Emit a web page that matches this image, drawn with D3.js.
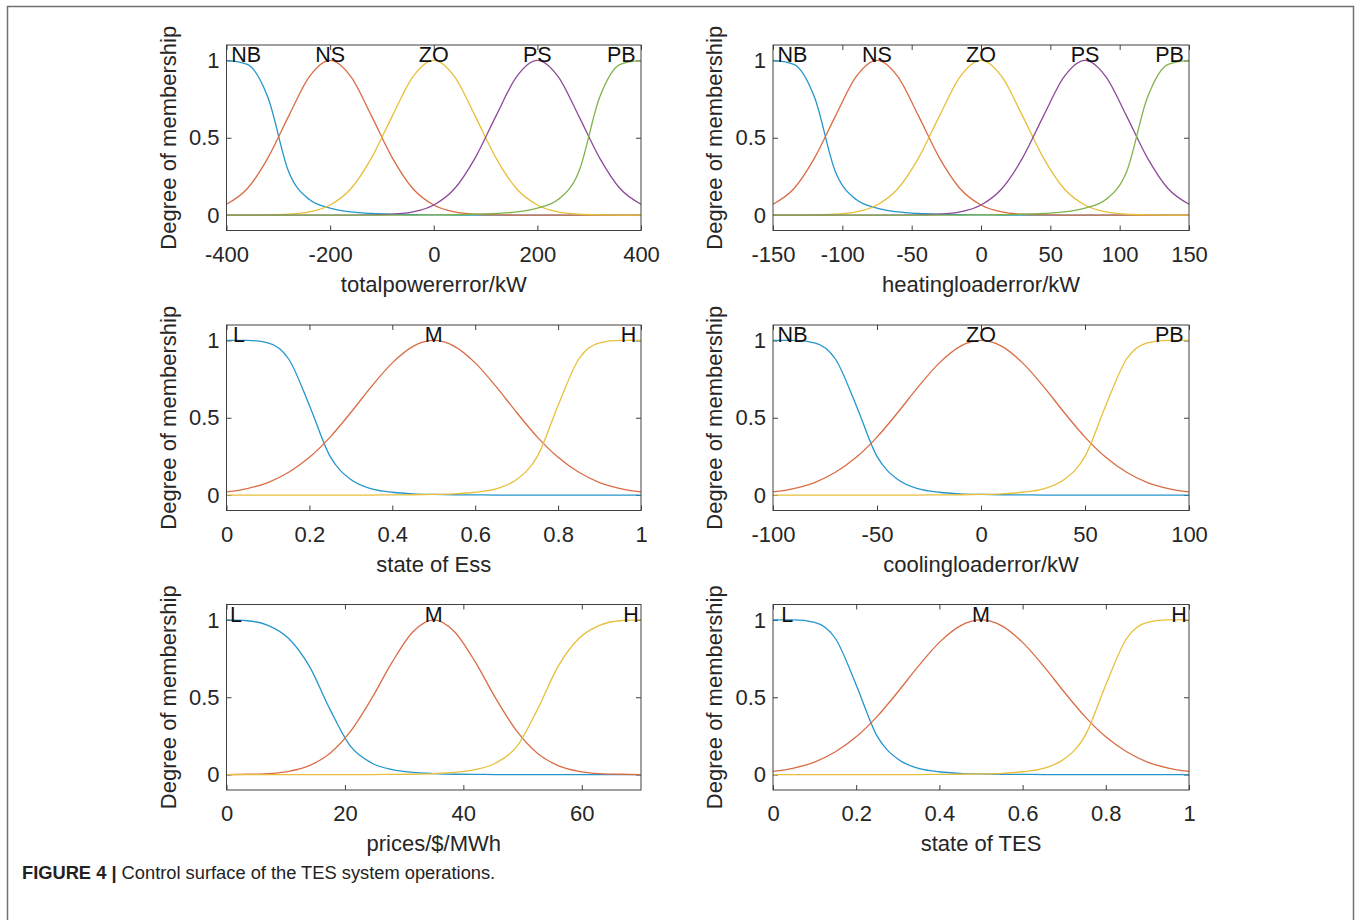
<!DOCTYPE html>
<html>
<head>
<meta charset="utf-8">
<title>Membership functions</title>
<script src="https://cdnjs.cloudflare.com/ajax/libs/d3/7.8.5/d3.min.js"></script>
<style>
  body { margin: 0; background: #fff; }
  svg { display: block; font-family: "Liberation Sans", Arial, sans-serif; }
  .frame { fill: none; stroke: #707070; stroke-width: 1.5px; }
  .box { fill: none; stroke: #404040; stroke-width: 1px; }
  .axis path { display: none; }
  .axis line { stroke: #404040; }
  .axis text { font-size: 22px; fill: #262626; font-family: "Liberation Sans", Arial, sans-serif; }
  .mf { fill: none; stroke-width: 1.3px; }
  .mflabel { font-size: 21.5px; fill: #111; text-anchor: middle; }
  .xlabel, .ylabel { font-size: 22px; fill: #262626; text-anchor: middle; }
  .caption { font-size: 18.3px; fill: #222; }
</style>
</head>
<body>
<svg width="1356" height="920"></svg>
<script>
// sample positions along each input range (0 = left end, 1 = right end)
var sampleT = [0, 0.05, 0.1, 0.15, 0.2, 0.25, 0.3, 0.35, 0.4, 0.45, 0.5,
               0.55, 0.6, 0.65, 0.7, 0.75, 0.8, 0.85, 0.9, 0.95, 1];

// five-set partitions (total power error, heating load error)
var fiveNB = [1, 0.975, 0.76, 0.28, 0.1, 0.045, 0.02, 0.01, 0.005, 0.002, 0.001, 0, 0, 0, 0, 0, 0, 0, 0, 0, 0];
var fiveNS = [0.07, 0.17, 0.37, 0.64, 0.895, 1, 0.895, 0.64, 0.37, 0.17, 0.065, 0.02, 0.005, 0.001, 0, 0, 0, 0, 0, 0, 0];
var fiveZO = [0, 0, 0.001, 0.005, 0.02, 0.065, 0.17, 0.37, 0.64, 0.895, 1, 0.895, 0.64, 0.37, 0.17, 0.065, 0.02, 0.005, 0.001, 0, 0];
var fivePS = [0, 0, 0, 0, 0, 0, 0, 0.001, 0.005, 0.02, 0.065, 0.17, 0.37, 0.64, 0.895, 1, 0.895, 0.64, 0.37, 0.17, 0.07];
var fivePB = [0, 0, 0, 0, 0, 0, 0, 0, 0, 0, 0.001, 0.002, 0.005, 0.01, 0.02, 0.045, 0.1, 0.28, 0.76, 0.975, 1];

// three-set partitions (state of Ess, cooling load error, state of TES)
var threeLow  = [1, 1, 0.985, 0.88, 0.58, 0.25, 0.1, 0.04, 0.018, 0.008, 0.004, 0.002, 0.001, 0, 0, 0, 0, 0, 0, 0, 0];
var threeMid  = [0.02, 0.042, 0.081, 0.147, 0.244, 0.375, 0.534, 0.703, 0.855, 0.962, 1, 0.962, 0.855, 0.703, 0.534, 0.375, 0.244, 0.147, 0.081, 0.042, 0.02];
var threeHigh = [0, 0, 0, 0, 0, 0, 0, 0, 0.001, 0.002, 0.004, 0.008, 0.018, 0.04, 0.1, 0.25, 0.58, 0.88, 0.985, 1, 1];

// prices
var priceLow  = [1, 0.995, 0.965, 0.88, 0.7, 0.42, 0.18, 0.075, 0.032, 0.014, 0.006, 0.002, 0.001, 0, 0, 0, 0, 0, 0, 0, 0];
var priceMid  = [0, 0.002, 0.006, 0.021, 0.058, 0.138, 0.282, 0.491, 0.729, 0.924, 1, 0.924, 0.729, 0.491, 0.282, 0.138, 0.058, 0.021, 0.006, 0.002, 0];
var priceHigh = [0, 0, 0, 0, 0, 0, 0, 0, 0.001, 0.002, 0.006, 0.014, 0.032, 0.075, 0.18, 0.42, 0.7, 0.88, 0.965, 0.995, 1];

var fiveNames  = ["NB", "NS", "ZO", "PS", "PB"];
var coolNames  = ["NB", "ZO", "PB"];
var levelNames = ["L", "M", "H"];

// where each set name is written (input units)
var powerLabelX   = [-362, -200, 0, 200, 362];
var heatLabelX    = [-136, -75, 0, 75, 136];
var essLabelX     = [0.03, 0.5, 0.97];
var coolLabelX    = [-90.6, 0, 90.5];
var priceLabelX   = [1.6, 35, 68.3];
var tesLabelX     = [0.034, 0.5, 0.976];

var powerTicks = [-400, -200, 0, 200, 400];
var heatTicks  = [-150, -100, -50, 0, 50, 100, 150];
var essTicks   = [0, 0.2, 0.4, 0.6, 0.8, 1];
var coolTicks  = [-100, -50, 0, 50, 100];
var priceTicks = [0, 20, 40, 60];
var tesTicks   = [0, 0.2, 0.4, 0.6, 0.8, 1];
var yTicks     = [0, 0.5, 1];

var colors = ["#2496cc", "#da6c45", "#e8bf3a", "#8c4a98", "#80b24a"];

var panels = [
  { col: 0, row: 0, domain: [-400, 400], ticks: powerTicks, label: "totalpowererror/kW",
    sets: [fiveNB, fiveNS, fiveZO, fivePS, fivePB], names: fiveNames, at: powerLabelX },
  { col: 1, row: 0, domain: [-150, 150], ticks: heatTicks, label: "heatingloaderror/kW",
    sets: [fiveNB, fiveNS, fiveZO, fivePS, fivePB], names: fiveNames, at: heatLabelX },
  { col: 0, row: 1, domain: [0, 1], ticks: essTicks, label: "state of Ess",
    sets: [threeLow, threeMid, threeHigh], names: levelNames, at: essLabelX },
  { col: 1, row: 1, domain: [-100, 100], ticks: coolTicks, label: "coolingloaderror/kW",
    sets: [threeLow, threeMid, threeHigh], names: coolNames, at: coolLabelX },
  { col: 0, row: 2, domain: [0, 70], ticks: priceTicks, label: "prices/$/MWh",
    sets: [priceLow, priceMid, priceHigh], names: levelNames, at: priceLabelX },
  { col: 1, row: 2, domain: [0, 1], ticks: tesTicks, label: "state of TES",
    sets: [threeLow, threeMid, threeHigh], names: levelNames, at: tesLabelX }
];

var svg = d3.select("svg");
svg.append("rect").attr("width", 1356).attr("height", 920).attr("fill", "#fff");

// outer figure frame
svg.append("path").attr("class", "frame")
  .attr("d", "M7.5,921V6.5H1353.5V921");

var colLeft = [226.5, 773], colWidth = [414.5, 416];
var rowTop = [45, 325, 604.5], plotH = 185.5;

panels.forEach(function(p) {
  var w = colWidth[p.col];
  var g = svg.append("g")
    .attr("transform", "translate(" + colLeft[p.col] + "," + rowTop[p.row] + ")");

  var x = d3.scaleLinear().domain(p.domain).range([0, w]);
  var y = d3.scaleLinear().domain([-0.1, 1.1]).range([plotH, 0]);
  var fmt = function(d) { return String(d); };

  g.append("g").attr("class", "axis")
    .attr("transform", "translate(0," + plotH + ")")
    .call(d3.axisBottom(x).tickValues(p.ticks).tickFormat(fmt)
      .tickSizeInner(-5).tickSizeOuter(0).tickPadding(15.5));
  g.append("g").attr("class", "axis")
    .call(d3.axisTop(x).tickValues(p.ticks).tickFormat("")
      .tickSizeInner(-5).tickSizeOuter(0));
  g.append("g").attr("class", "axis")
    .call(d3.axisLeft(y).tickValues(yTicks).tickFormat(fmt)
      .tickSizeInner(-5).tickSizeOuter(0).tickPadding(7));
  g.append("g").attr("class", "axis")
    .attr("transform", "translate(" + w + ",0)")
    .call(d3.axisRight(y).tickValues(yTicks).tickFormat("")
      .tickSizeInner(-5).tickSizeOuter(0));

  var sampleX = sampleT.map(function(t) { return p.domain[0] + t * (p.domain[1] - p.domain[0]); });
  var line = d3.line()
    .x(function(d, i) { return x(sampleX[i]); })
    .y(function(d) { return y(d); })
    .curve(d3.curveMonotoneX);

  g.selectAll(".mf").data(p.sets).enter()
    .append("path")
    .attr("class", "mf")
    .attr("stroke", function(d, i) { return colors[i]; })
    .attr("d", line);

  g.append("rect").attr("class", "box").attr("width", w).attr("height", plotH);

  g.selectAll(".mflabel").data(p.names).enter()
    .append("text")
    .attr("class", "mflabel")
    .attr("x", function(d, i) { return x(p.at[i]); })
    .attr("y", y(1) + 2)
    .text(function(d) { return d; });

  g.append("text").attr("class", "xlabel")
    .attr("x", w / 2).attr("y", plotH + 61)
    .text(p.label);

  g.append("text").attr("class", "ylabel")
    .attr("transform", "translate(-51," + (plotH / 2) + ")rotate(-90)")
    .text("Degree of membership");
});

var cap = svg.append("text").attr("class", "caption").attr("x", 22).attr("y", 879);
cap.append("tspan").attr("font-weight", "bold").text("FIGURE 4 | ");
cap.append("tspan").text("Control surface of the TES system operations.");
</script>
</body>
</html>
